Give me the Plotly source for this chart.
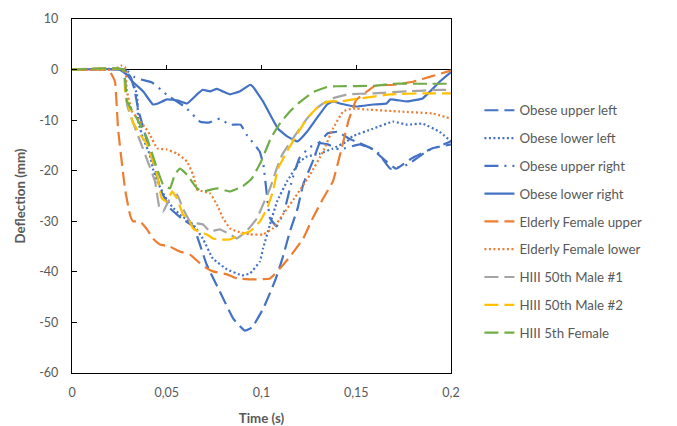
import plotly.graph_objects as go

# ---- data (time in s, deflection in mm) ----
t_obese_ul = [0, 0.028, 0.031, 0.033, 0.035, 0.038, 0.041, 0.044, 0.047, 0.052, 0.058, 0.064, 0.071, 0.078, 0.085, 0.091, 0.095, 0.101, 0.107, 0.111, 0.115, 0.119, 0.122, 0.127, 0.131, 0.135, 0.14, 0.147, 0.158, 0.166, 0.171, 0.179, 0.19, 0.2]
d_obese_ul = [0, 0, -1.5, -4, -8, -12, -16, -20, -24, -27.5, -29.5, -31, -38.5, -43.9, -49.2, -51.6, -51, -47.2, -41.9, -37.4, -32, -27.5, -22.7, -18.2, -14.2, -12.6, -12.3, -13.8, -15.6, -18.2, -19.6, -17.6, -15.6, -14.8]

t_obese_ll = [0, 0.028, 0.032, 0.0343, 0.035, 0.0375, 0.041, 0.0427, 0.045, 0.049, 0.0528, 0.057, 0.0639, 0.069, 0.0744, 0.0818, 0.0897, 0.094, 0.0992, 0.1008, 0.1045, 0.1082, 0.1135, 0.1203, 0.124, 0.131, 0.1377, 0.1451, 0.148, 0.1588, 0.1694, 0.1768, 0.185, 0.194, 0.2]
d_obese_ll = [0, 0, -2.4, -4.9, -10.3, -13.6, -16.8, -19.6, -22.1, -25.1, -27.1, -28.7, -30.6, -33.4, -37.4, -39.5, -40.7, -40.3, -37.9, -35.4, -30.6, -26.1, -22.1, -18.2, -17.2, -16.6, -15.6, -14.2, -13.2, -11.7, -10.3, -10.9, -10.7, -12.3, -14.2]

t_obese_ur = [0, 0.028, 0.03, 0.033, 0.037, 0.042, 0.047, 0.05, 0.06, 0.0676, 0.072, 0.078, 0.083, 0.089, 0.092, 0.099, 0.101, 0.1045, 0.108, 0.112, 0.116, 0.12, 0.125, 0.13, 0.135, 0.141, 0.152, 0.161, 0.168, 0.177, 0.187, 0.2]
d_obese_ur = [0, 0, -0.5, -1.5, -2, -2.5, -4, -5, -7.5, -10.3, -10.5, -9.7, -10.9, -10.9, -12.8, -16.2, -18.8, -29.4, -31, -28, -22, -17.5, -15.5, -14.5, -14.8, -15.8, -14.8, -16.2, -19.6, -18.8, -16.2, -14.2]

t_obese_lr = [0, 0.025, 0.029, 0.032, 0.0375, 0.0427, 0.0454, 0.05, 0.0554, 0.0607, 0.066, 0.069, 0.0728, 0.0765, 0.0818, 0.0834, 0.0887, 0.094, 0.0955, 0.1008, 0.1045, 0.1087, 0.1135, 0.119, 0.124, 0.129, 0.1346, 0.1377, 0.1414, 0.15, 0.1588, 0.166, 0.168, 0.1768, 0.185, 0.189, 0.194, 0.2]
d_obese_lr = [0, 0, -1.0, -2.4, -4.3, -6.9, -6.7, -5.9, -6.1, -6.7, -4.9, -4.0, -4.3, -3.8, -4.7, -4.9, -4.3, -3.0, -3.4, -6.3, -8.9, -11.7, -13.2, -14.2, -12.3, -9.7, -6.9, -6.3, -6.7, -7.3, -6.9, -6.7, -5.9, -6.3, -5.7, -4.3, -2.4, -0.5]

t_eld_upper = [0, 0.017, 0.020, 0.0227, 0.0243, 0.028, 0.0306, 0.0322, 0.0359, 0.0396, 0.0427, 0.0464, 0.0517, 0.057, 0.0623, 0.0675, 0.0712, 0.0744, 0.0818, 0.087, 0.0955, 0.1045, 0.1098, 0.115, 0.122, 0.127, 0.1325, 0.1377, 0.142, 0.146, 0.15, 0.155, 0.16, 0.17, 0.18, 0.19, 0.2]
d_eld_upper = [0, 0, -0.4, -2.4, -11.7, -23.7, -28.7, -30.0, -30.0, -31.6, -33.4, -34.6, -35.0, -36.0, -36.6, -38.3, -39.3, -39.9, -40.5, -41.3, -41.5, -41.3, -39.3, -37.0, -33.4, -29.4, -25.5, -22.1, -16, -10, -6, -4.5, -3.2, -3.0, -2.4, -1.3, -0.2]

t_eld_lower = [0, 0.022, 0.026, 0.028, 0.029, 0.0317, 0.0375, 0.041, 0.045, 0.05, 0.0554, 0.0607, 0.0639, 0.066, 0.0728, 0.0765, 0.0797, 0.0834, 0.087, 0.094, 0.1008, 0.106, 0.1113, 0.1187, 0.1256, 0.1325, 0.1377, 0.143, 0.148, 0.1557, 0.173, 0.1905, 0.2]
d_eld_lower = [0, 0, 0.8, 0.5, -4.3, -8.3, -10.9, -12.8, -15.6, -15.8, -16.6, -18.2, -20.8, -23.7, -24.5, -26.7, -29.4, -31.4, -32.0, -32.6, -32.6, -31.4, -28.7, -24.7, -20.8, -16.2, -11.7, -8.3, -7.7, -7.9, -8.3, -8.7, -9.7]

t_hiii50_1 = [0, 0.027, 0.029, 0.032, 0.0364, 0.040, 0.0438, 0.046, 0.048, 0.0517, 0.0554, 0.0586, 0.0623, 0.066, 0.069, 0.0728, 0.078, 0.0834, 0.087, 0.092, 0.0976, 0.1008, 0.1045, 0.108, 0.111, 0.1166, 0.124, 0.129, 0.1325, 0.1377, 0.1456, 0.159, 0.177, 0.194, 0.2]
d_hiii50_1 = [0, 0, -6.9, -10.3, -14.6, -18.2, -22.1, -27.1, -28.1, -25.5, -24.7, -27.5, -30.0, -30.4, -30.6, -32.0, -31.6, -32.6, -33.4, -32.0, -29.4, -26.7, -23.5, -19.6, -16.8, -13.6, -9.7, -7.7, -6.7, -5.7, -4.9, -4.7, -4.3, -4.0, -4.0]

t_hiii50_2 = [0, 0.027, 0.028, 0.0306, 0.032, 0.0359, 0.0396, 0.0427, 0.0449, 0.0464, 0.0475, 0.050, 0.0528, 0.0554, 0.0586, 0.0612, 0.0639, 0.0675, 0.0712, 0.0744, 0.078, 0.0834, 0.0887, 0.094, 0.0992, 0.1029, 0.106, 0.1087, 0.1135, 0.1187, 0.124, 0.131, 0.136, 0.1414, 0.152, 0.168, 0.185, 0.2]
d_hiii50_2 = [0, 0, -4.3, -8.3, -10.3, -12.8, -14.8, -18.2, -20.8, -24.1, -25.5, -26.1, -24.1, -25.5, -28.7, -29.4, -31.4, -32.2, -32.6, -33.4, -33.6, -33.6, -32.6, -32.0, -30.0, -27.5, -24.1, -19.6, -16.2, -12.8, -9.7, -6.9, -6.3, -6.3, -5.7, -4.9, -4.7, -4.7]

t_hiii5 = [0, 0.027, 0.029, 0.0343, 0.0396, 0.0449, 0.048, 0.0517, 0.0544, 0.057, 0.0607, 0.066, 0.069, 0.0765, 0.0834, 0.090, 0.095, 0.1, 0.105, 0.11, 0.115, 0.12, 0.127, 0.135, 0.14, 0.16, 0.17, 0.18, 0.19, 0.2]
d_hiii5 = [0, 0, -6.3, -9.7, -13.6, -19.6, -22.7, -23.5, -20.6, -19.6, -20.8, -23.5, -24.1, -23.5, -24.1, -23.1, -21.5, -18, -13.5, -10.5, -8.3, -6.5, -4.5, -3.4, -3.3, -3.2, -2.8, -2.8, -2.8, -2.8]

series_names = ["Obese upper left", "Obese lower left", "Obese upper right", "Obese lower right",
                "Elderly Female upper", "Elderly Female lower", "HIII 50th Male #1",
                "HIII 50th Male #2", "HIII 5th Female"]
series_t = [t_obese_ul, t_obese_ll, t_obese_ur, t_obese_lr, t_eld_upper, t_eld_lower, t_hiii50_1, t_hiii50_2, t_hiii5]
series_d = [d_obese_ul, d_obese_ll, d_obese_ur, d_obese_lr, d_eld_upper, d_eld_lower, d_hiii50_1, d_hiii50_2, d_hiii5]

y_tickvals = [10, 0, -10, -20, -30, -40, -50, -60]
y_ticktext = ["10", "0", "-10", "-20", "-30", "-40", "-50", "-60"]

BLUE, ORANGE, GRAY, YELLOW, GREEN = "#4472C4", "#ED7D31", "#A5A5A5", "#FFC000", "#70AD47"
LONG = "14px,6px"
DOT = "2px,2.5px"
LDDD = "14px,6px,2px,6px,2px,6px"
styles = [(BLUE, LONG), (BLUE, DOT), (BLUE, LDDD), (BLUE, "solid"),
          (ORANGE, LONG), (ORANGE, DOT), (GRAY, LONG), (YELLOW, LONG), (GREEN, LONG)]

FONT = "Lato, 'Open Sans', sans-serif"
TXT = "#595959"

fig = go.Figure()
for i, (name, t, d, (c, dash)) in enumerate(zip(series_names, series_t, series_d, styles)):
    fig.add_trace(go.Scatter(
        x=t, y=d, name=name, mode="lines", legendgroup=name,
        xaxis="x" if i == 0 else "x2", yaxis="y",
        line=dict(color=c, width=2.2, dash=dash, shape="spline", smoothing=0.3),
    ))

fig.update_layout(
    width=677, height=426,
    margin=dict(l=72, r=226, t=19, b=53),
    paper_bgcolor="white", plot_bgcolor="white",
    separators=", ",
    font=dict(family=FONT, color=TXT, size=12.5),
    showlegend=True,
    legend=dict(x=1.075, y=0.785, xanchor="left", yanchor="top",
                font=dict(family=FONT, size=13.3, color=TXT),
                tracegroupgap=7.5, itemwidth=30, bgcolor="rgba(0,0,0,0)"),
    xaxis=dict(range=[0, 0.2], dtick=0.05, tick0=0, showgrid=False, zeroline=False,
               showline=True, mirror=True, linecolor="#000000", linewidth=1.3,
               ticks="outside", ticklen=8, tickcolor="rgba(0,0,0,0)",
               tickfont=dict(family=FONT, size=12.5, color=TXT), automargin=False,
               title=dict(text="<b>Time (s)</b>", font=dict(family=FONT, size=13.3, color=TXT), standoff=14),
               fixedrange=True),
    xaxis2=dict(range=[0, 0.2], dtick=0.05, tick0=0, overlaying="x", anchor="free",
                position=60 / 70, side="bottom", showgrid=False, zeroline=False,
                showline=False, ticks="inside", ticklen=5, tickcolor="#000000", tickwidth=1.3,
                showticklabels=False, automargin=False),
    yaxis=dict(range=[-60, 10], tickvals=y_tickvals, ticktext=y_ticktext, showgrid=False,
               zeroline=True, zerolinecolor="#000000", zerolinewidth=1.3,
               showline=True, mirror=True, linecolor="#000000", linewidth=1.3,
               ticks="inside", ticklen=5, tickcolor="#000000", tickwidth=1.3,
               ticklabelstandoff=10, automargin=False,
               tickfont=dict(family=FONT, size=12.5, color=TXT),
               title=dict(text="<b>Deflection (mm)</b>", font=dict(family=FONT, size=13.3, color=TXT), standoff=10)),
)

fig.write_html("out.html")
